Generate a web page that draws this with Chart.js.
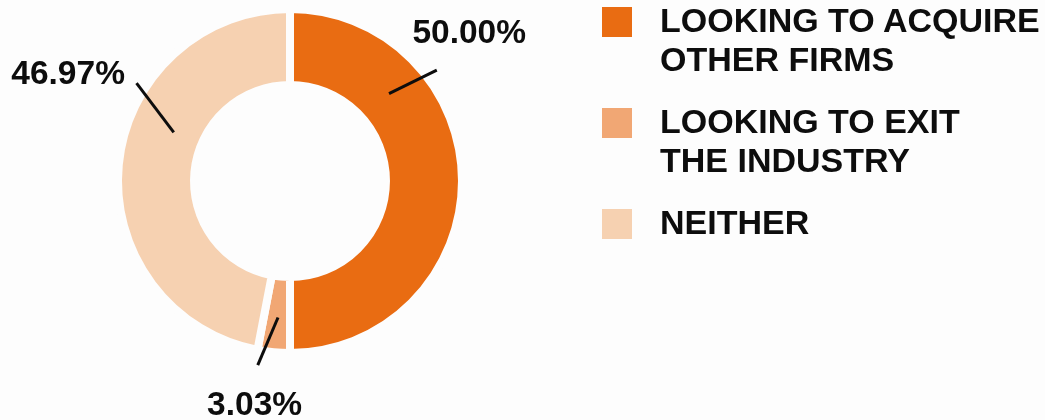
<!DOCTYPE html>
<html>
<head>
<meta charset="utf-8">
<script src="https://cdn.jsdelivr.net/npm/chart.js@4.4.1/dist/chart.umd.min.js"></script>
<style>
  html, body { margin: 0; padding: 0; background: #fdfdfd; }
  #wrap { position: relative; width: 1045px; height: 420px; overflow: hidden; }
  #chart { position: absolute; left: 0; top: 0; }
  #legend {
    position: absolute; left: 602px; top: 1px;
    font-family: "Liberation Sans", Arial, sans-serif; font-weight: bold;
    font-size: 34px; line-height: 39px; color: #0d0d0d; white-space: nowrap;
  }
  .item { position: relative; padding-left: 58px; margin-bottom: 23px; }
  .box { position: absolute; left: 0; top: 6px; width: 30px; height: 30px; }
</style>
</head>
<body>
<div id="wrap">
  <canvas id="chart" width="1045" height="420"></canvas>
  <div id="legend"></div>
</div>
<script>
// --- DATOS ---
const labels = [['LOOKING TO ACQUIRE', 'OTHER FIRMS'], ['LOOKING TO EXIT', 'THE INDUSTRY'], ['NEITHER']];
const values = [50.00, 3.03, 46.97];
const colors = ['#e96c12', '#f1a774', '#f6d1b1'];

// callout placement per slice: fraction along the slice + distance from centre
const callouts = [
  { a0: 0.27, r0: 132, a1: 0.294, r1: 184, at: 0.281, rt: 232 },
  { a0: 0.46, r0: 137, a1: 0.91, r1: 187, at: 0.82, rt: 228 },
  { a0: 0.602, r0: 126, a1: 0.66, r1: 182, at: 0.619, rt: 246 }
];

const calloutPlugin = {
  id: 'callouts',
  afterDatasetsDraw(chart) {
    const ctx = chart.ctx;
    const meta = chart.getDatasetMeta(0);
    const pt = (arc, f, r) => {
      const a = arc.startAngle + f * (arc.endAngle - arc.startAngle);
      return [arc.x + r * Math.cos(a), arc.y + r * Math.sin(a)];
    };
    ctx.save();
    ctx.strokeStyle = '#0d0d0d';
    ctx.lineWidth = 3;
    ctx.fillStyle = '#0d0d0d';
    ctx.font = 'bold 33.5px "Liberation Sans", Arial, sans-serif';
    ctx.textAlign = 'center';
    ctx.textBaseline = 'middle';
    meta.data.forEach((arc, i) => {
      const c = callouts[i];
      const p0 = pt(arc, c.a0, c.r0);
      const p1 = pt(arc, c.a1, c.r1);
      ctx.beginPath();
      ctx.moveTo(p0[0], p0[1]);
      ctx.lineTo(p1[0], p1[1]);
      ctx.stroke();
      const t = pt(arc, c.at, c.rt);
      ctx.fillText(chart.data.datasets[0].data[i].toFixed(2) + '%', t[0], t[1]);
    });
    ctx.restore();
  }
};

const chart = new Chart(document.getElementById('chart'), {
  type: 'doughnut',
  data: {
    labels: labels,
    datasets: [{
      data: values,
      backgroundColor: colors,
      borderColor: '#fdfdfd',
      borderWidth: 8,
      hoverOffset: 0
    }]
  },
  options: {
    responsive: false,
    animation: false,
    cutout: '55.8%',
    layout: { padding: { left: 114, top: 5, right: 579, bottom: 63 } },
    plugins: {
      legend: { display: false },
      tooltip: { enabled: false }
    }
  },
  plugins: [calloutPlugin]
});

// --- LEYENDA ---
const legend = document.getElementById('legend');
chart.data.labels.forEach((lab, i) => {
  const div = document.createElement('div');
  div.className = 'item';
  div.innerHTML = `<span class="box" style="background:${chart.data.datasets[0].backgroundColor[i]}"></span>${[].concat(lab).join('<br>')}`;
  legend.appendChild(div);
});
</script>
</body>
</html>
